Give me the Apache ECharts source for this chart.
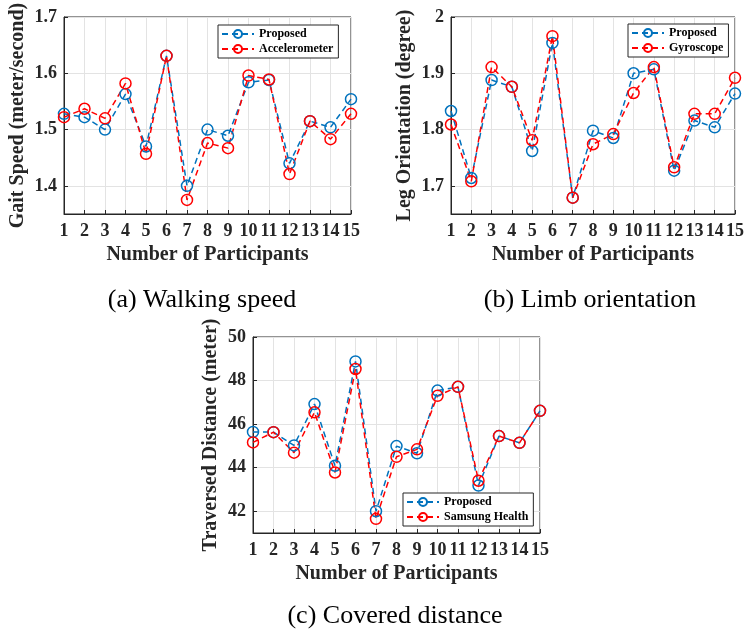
<!DOCTYPE html>
<html><head><meta charset="utf-8">
<script src="https://cdn.jsdelivr.net/npm/echarts@6/dist/echarts.min.js"></script>
<style>html,body{margin:0;padding:0;background:#fff}#c{width:747px;height:631px}</style>
</head><body><div id="c"></div>
<script>
const participants = ['1','2','3','4','5','6','7','8','9','10','11','12','13','14','15'];

const speedProposed = [1.528,1.522,1.500,1.563,1.470,1.631,1.400,1.500,1.489,1.584,1.588,1.440,1.515,1.504,1.554];
const speedAccel    = [1.522,1.537,1.520,1.582,1.457,1.631,1.375,1.476,1.467,1.596,1.589,1.421,1.515,1.483,1.528];
const speedTicks = [1.4,1.5,1.6,1.7];

const orientProposed = [1.833,1.714,1.888,1.876,1.762,1.954,1.679,1.798,1.785,1.900,1.907,1.727,1.816,1.804,1.864];
const orientGyro     = [1.809,1.708,1.911,1.876,1.781,1.966,1.679,1.774,1.792,1.865,1.911,1.733,1.828,1.828,1.892];
const orientTicks = [1.7,1.8,1.9,2];

const distProposed = [45.64,45.63,45.02,46.92,44.09,48.88,42.00,44.99,44.66,47.54,47.71,43.18,45.45,45.14,46.61];
const distSamsung  = [45.16,45.63,44.69,46.54,43.78,48.53,41.65,44.50,44.84,47.30,47.71,43.40,45.45,45.14,46.61];
const distTicks = [42,44,46,48,50];

const SERIF = '"Liberation Serif","Times New Roman",serif';
const AX = '#262626';
const BLUE = '#0072BD';
const RED = '#FF0000';

function grid(left, top, h) {
  return {left: left, top: top, width: 287, height: h, show: true, borderColor: AX, borderWidth: 1, backgroundColor: 'transparent', containLabel: false};
}
function xAxis(gi) {
  return {
    type: 'category', gridIndex: gi, data: participants, boundaryGap: false,
    name: 'Number of Participants', nameLocation: 'middle', nameGap: 31,
    nameTextStyle: {fontFamily: SERIF, fontWeight: 'bold', fontSize: 20, color: AX},
    axisLine: {show: true, lineStyle: {color: AX, width: 1}},
    axisTick: {show: true, inside: true, length: 4, alignWithLabel: true, lineStyle: {color: AX}},
    axisLabel: {interval: 0, hideOverlap: false, margin: 8, fontFamily: SERIF, fontWeight: 'bold', fontSize: 18, color: AX},
    splitLine: {show: true, interval: 0, lineStyle: {color: '#e3e3e3', width: 1}}
  };
}
function yAxis(gi, min, max, ticks, name, gap) {
  return {
    type: 'value', gridIndex: gi, min: min, max: max,
    name: name, nameLocation: 'middle', nameGap: gap,
    nameTextStyle: {fontFamily: SERIF, fontWeight: 'bold', fontSize: 20, color: AX},
    axisLine: {show: true, lineStyle: {color: AX, width: 1}},
    axisTick: {show: true, inside: true, length: 4, customValues: ticks, lineStyle: {color: AX}},
    axisLabel: {customValues: ticks, margin: 7, fontFamily: SERIF, fontWeight: 'bold', fontSize: 18, color: AX},
    splitLine: {show: true, lineStyle: {color: '#e3e3e3', width: 1}}
  };
}
function series(name, data, color, gi) {
  return {
    type: 'line', name: name, data: data, xAxisIndex: gi, yAxisIndex: gi,
    symbol: 'circle', symbolSize: 11, showAllSymbol: true,
    lineStyle: {color: color, width: 1.5, type: [6, 4]},
    itemStyle: {color: 'rgba(255,255,255,0)', borderColor: color, borderWidth: 1.5},
    emphasis: {disabled: true}, animation: false
  };
}
function legend(names, left, top) {
  return {
    data: names, left: left, top: top, orient: 'vertical',
    itemWidth: 32, itemHeight: 10, itemGap: 3, padding: [3, 5, 3, 3],
    backgroundColor: '#fff', borderColor: AX, borderWidth: 1, borderRadius: 0,
    selectedMode: false,
    textStyle: {fontFamily: SERIF, fontWeight: 'bold', fontSize: 12, color: '#000'}
  };
}
function caption(text, cx, top) {
  return {text: text, left: cx, top: top, textAlign: 'center',
    textStyle: {fontFamily: SERIF, fontWeight: 'normal', fontSize: 26, color: '#000'}};
}

const chart = echarts.init(document.getElementById('c'), null, {renderer: 'canvas'});
chart.setOption({
  animation: false,
  backgroundColor: '#fff',
  title: [caption('(a) Walking speed', 197, 282), caption('(b) Limb orientation', 585, 282), caption('(c) Covered distance', 390, 598)],
  grid: [grid(64, 17, 197), grid(451, 17, 197), grid(253, 337, 196)],
  xAxis: [xAxis(0), xAxis(1), xAxis(2)],
  yAxis: [
    yAxis(0, 1.35, 1.7, speedTicks, 'Gait Speed (meter/second)', 36),
    yAxis(1, 1.65, 2.0, orientTicks, 'Leg Orientation (degree)', 36),
    yAxis(2, 41, 50, distTicks, 'Traversed Distance (meter)', 32)
  ],
  legend: [legend(['Proposed', 'Accelerometer'], 218, 25), legend(['Proposed', 'Gyroscope'], 628, 24), legend(['Proposed', 'Samsung Health'], 403, 493)],
  series: [
    series('Proposed', speedProposed, BLUE, 0), series('Accelerometer', speedAccel, RED, 0),
    series('Proposed', orientProposed, BLUE, 1), series('Gyroscope', orientGyro, RED, 1),
    series('Proposed', distProposed, BLUE, 2), series('Samsung Health', distSamsung, RED, 2)
  ]
});
</script>
</body></html>
